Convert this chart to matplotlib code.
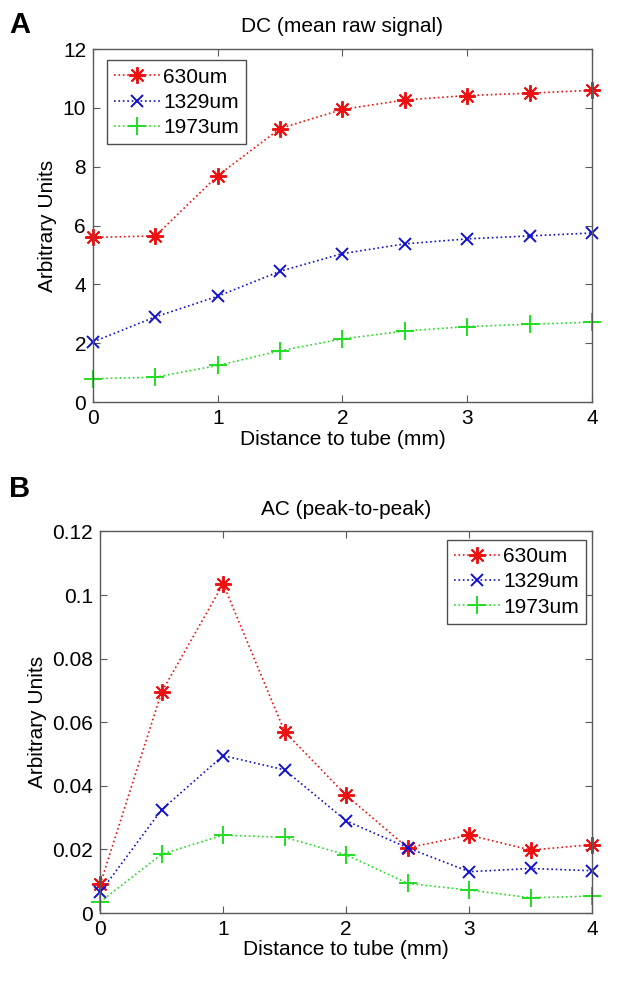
import matplotlib
matplotlib.use('Agg')
import matplotlib.pyplot as plt

plt.rcParams['font.family'] = ['Liberation Sans', 'DejaVu Sans']

distance = [0, 0.5, 1, 1.5, 2, 2.5, 3, 3.5, 4]
series_names = ['630um', '1329um', '1973um']

dc_630 = [5.6, 5.65, 7.7, 9.3, 9.95, 10.27, 10.42, 10.5, 10.6]
dc_1329 = [2.05, 2.9, 3.6, 4.45, 5.05, 5.38, 5.55, 5.65, 5.75]
dc_1973 = [0.8, 0.85, 1.25, 1.75, 2.15, 2.42, 2.57, 2.65, 2.72]

ac_630 = [0.009, 0.0695, 0.1035, 0.057, 0.037, 0.0205, 0.0245, 0.0198, 0.0215]
ac_1329 = [0.0065, 0.0325, 0.0495, 0.045, 0.029, 0.0205, 0.013, 0.014, 0.0133]
ac_1973 = [0.0035, 0.0185, 0.0245, 0.0238, 0.0183, 0.0093, 0.0072, 0.0048, 0.0053]

colors = ['#ee1111', '#1111cc', '#22dd22']
markers = [(8, 2, 0), 'x', '+']
msizes = [12, 9, 13]
fs = 15

fig = plt.figure(figsize=(6.26, 9.81), dpi=100)
ax_a = fig.add_axes([0.1486, 0.590, 0.797, 0.360])
ax_b = fig.add_axes([0.160, 0.0693, 0.786, 0.389])


def style(ax):
    for sp in ax.spines.values():
        sp.set_color('0.35')
        sp.set_linewidth(1.0)
    ax.tick_params(direction='in', top=True, right=True, length=5,
                   color='0.35', labelsize=fs, pad=5)
    ax.set_xlim(0, 4)
    ax.set_xticks([0, 1, 2, 3, 4])
    ax.set_xlabel('Distance to tube (mm)', fontsize=fs, labelpad=1)
    ax.set_ylabel('Arbitrary Units', fontsize=fs, labelpad=4)


for ax, data in [(ax_a, [dc_630, dc_1329, dc_1973]),
                 (ax_b, [ac_630, ac_1329, ac_1973])]:
    for vals, name, c, m, ms in zip(data, series_names, colors, markers, msizes):
        ax.plot(distance, vals, linestyle=':', color=c, marker=m,
                markersize=ms, markeredgewidth=1.4, linewidth=1.2,
                label=name, clip_on=False)
    style(ax)

leg_kw = dict(fontsize=fs, fancybox=False, edgecolor='0.3', framealpha=1,
              handlelength=2.2, borderpad=0.35, labelspacing=0.3,
              handletextpad=0.15, borderaxespad=0)

ax_a.set_ylim(0, 12)
ax_a.set_yticks(range(0, 13, 2))
ax_a.set_title('DC (mean raw signal)', fontsize=fs, pad=12)
leg = ax_a.legend(loc='upper left', bbox_to_anchor=(0.028, 0.968), **leg_kw)
leg.get_frame().set_linewidth(1.0)

ax_b.set_ylim(0, 0.12)
ax_b.set_yticks([0, 0.02, 0.04, 0.06, 0.08, 0.1, 0.12])
ax_b.set_yticklabels(['0', '0.02', '0.04', '0.06', '0.08', '0.1', '0.12'])
ax_b.set_title('AC (peak-to-peak)', fontsize=fs, pad=12)
leg = ax_b.legend(loc='upper right', bbox_to_anchor=(0.988, 0.978), **leg_kw)
leg.get_frame().set_linewidth(1.0)

fig.text(0.015, 0.975, 'A', fontsize=21, fontweight='bold', va='center')
fig.text(0.015, 0.502, 'B', fontsize=21, fontweight='bold', va='center')

fig.savefig('out.png', dpi=100, facecolor='white')
